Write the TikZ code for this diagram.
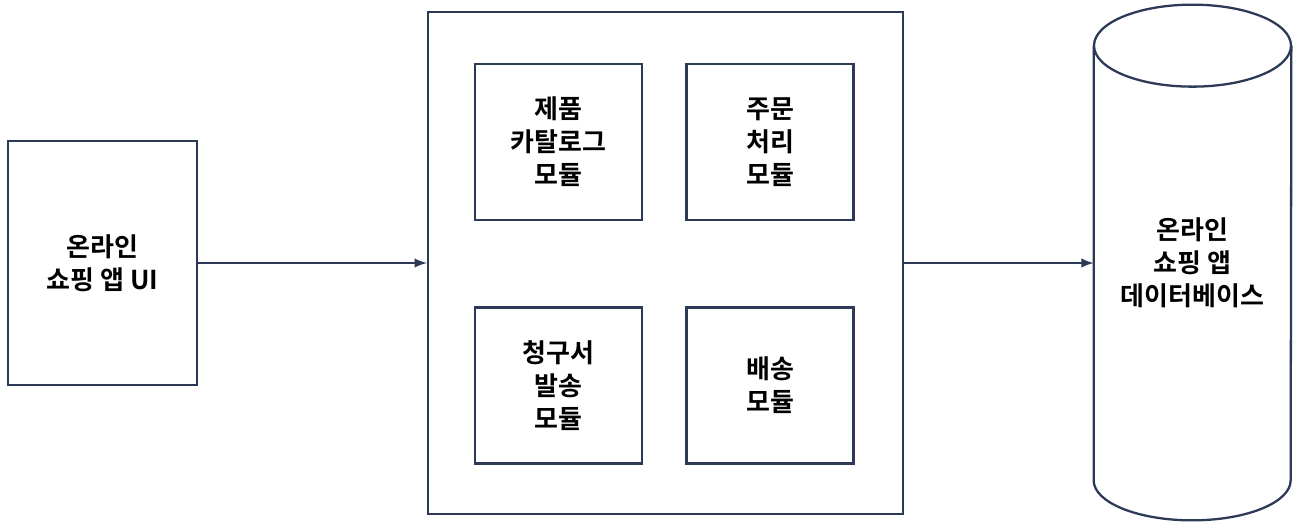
\documentclass[tikz,border=0pt]{standalone}
\usepackage{fontspec}
\newfontfamily\krfont{Noto Sans CJK KR}[BoldFont={Noto Sans CJK KR Bold}]
\usetikzlibrary{calc, arrows}
\definecolor{navy}{RGB}{44,58,88}
\tikzstyle{block} = [rectangle, draw=navy, line width=1.3pt, align=center, inner sep=0pt]
\tikzstyle{module} = [block, minimum width=3.34cm, minimum height=3.12cm]
\tikzstyle{link} = [draw=navy, line width=1.4pt, -latex]

\begin{document}
\begin{tikzpicture}[font=\krfont\bfseries\fontsize{14.8}{18.8}\selectfont]
        \useasboundingbox (0, 0) rectangle (25.92, 10.44);
        \node[block, minimum width=3.78cm, minimum height=4.88cm] at (2.05, 5.18) (ShopUI) {온라인\\쇼핑 앱 UI};

        \node[block, minimum width=9.5cm, minimum height=10.04cm] at (13.31, 5.18) (ShopApp) {};
        \node[module] at (11.17, 7.6) (CatalogModule) {제품\\카탈로그\\모듈};
        \node[module] at (15.4, 7.6) (OrderModule) {주문\\처리\\모듈};
        \node[module] at (11.17, 2.73) (InvoiceModule) {청구서\\발송\\모듈};
        \node[module] at (15.4, 2.73) (ShippingModule) {배송\\모듈};

        % database cylinder
        \node[rectangle, minimum width=3.94cm, minimum height=8.68cm, align=center, inner sep=0pt] at (23.85, 5.18) (ShopDB) {온라인\\쇼핑 앱\\데이터베이스};
        \draw[navy, line width=1.3pt] (ShopDB.north west) -- (ShopDB.south west)
            arc[start angle=180, end angle=360, x radius=1.97cm, y radius=0.8cm]
            -- (ShopDB.north east);
        \draw[navy, line width=1.3pt] (ShopDB.north) ellipse (1.97cm and 0.82cm);

        \draw[link] (ShopUI) -- (ShopApp);
        \draw[link] (ShopApp) -- (ShopDB);
    \end{tikzpicture}
\end{document}
